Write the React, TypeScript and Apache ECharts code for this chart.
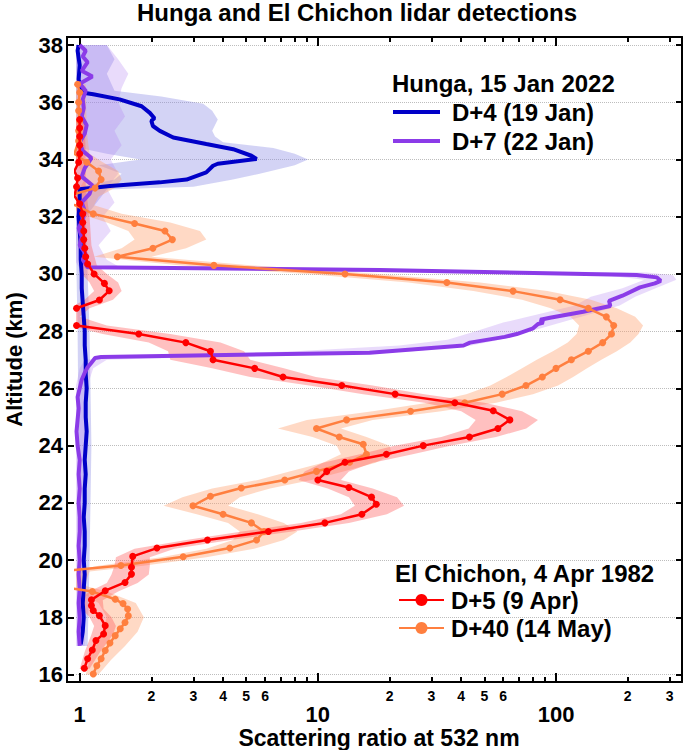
import React, { useEffect, useRef } from "react";
import * as echarts from "echarts";

const TITLE = "Hunga and El Chichon lidar detections";
const X_NAME = "Scattering ratio at 532 nm";
const Y_NAME = "Altitude (km)";
const HUNGA_HEADER = "Hunga, 15 Jan 2022";
const CHICHON_HEADER = "El Chichon, 4 Apr 1982";
const NAME_D4 = "D+4 (19 Jan)";
const NAME_D7 = "D+7 (22 Jan)";
const NAME_D5 = "D+5 (9 Apr)";
const NAME_D40 = "D+40 (14 May)";

const X_MIN = 0.965;
const X_MAX = 338;
const Y_MIN = 15.74;
const Y_MAX = 38.28;

const yTicks = [16, 18, 20, 22, 24, 26, 28, 30, 32, 34, 36, 38];
const xMinorTicks = [2, 3, 4, 5, 6, 7, 8, 9, 20, 30, 40, 50, 60, 70, 80, 90, 200, 300];
const xMinorLabels = [2, 3, 4, 5, 6, 20, 30, 40, 50, 60, 200, 300];
const xMajorTicks = [1, 10, 100];

// Hunga D+4 (19 Jan): [scattering ratio, altitude km]
const hungaD4 = [
  [1.01, 17.05], [1.03, 17.5], [1.04, 18.0], [1.03, 18.5], [1.04, 19.0], [1.05, 19.5], [1.04, 20.0],
  [1.05, 20.5], [1.05, 21.0], [1.04, 21.5], [1.05, 22.0], [1.05, 22.5], [1.06, 23.0], [1.05, 23.5],
  [1.06, 24.0], [1.07, 24.5], [1.06, 25.0], [1.06, 25.5], [1.07, 26.0], [1.06, 26.5], [1.06, 27.0],
  [1.05, 27.5], [1.05, 28.0], [1.04, 28.5], [1.03, 29.0], [1.02, 29.5], [1.02, 30.0], [1.01, 30.5],
  [1.01, 31.0], [1.0, 31.5], [0.99, 32.0], [1.0, 32.5], [1.0, 32.96], [1.34, 33.07], [2.17, 33.2],
  [2.81, 33.3], [3.4, 33.55], [3.63, 33.78], [3.8, 33.85], [5.53, 34.02], [5.26, 34.13], [4.41, 34.36],
  [3.4, 34.54], [2.47, 34.77], [2.17, 35.0], [2.03, 35.17], [2.0, 35.35], [2.06, 35.44], [1.97, 35.63],
  [1.82, 35.86], [1.47, 36.1], [1.14, 36.28], [1.02, 36.34], [0.99, 36.8], [1.0, 37.3], [0.98, 37.8],
  [0.99, 38.0],
];

// Hunga D+7 (22 Jan)
const hungaD7 = [
  [1.0, 17.0], [0.99, 17.5], [1.0, 18.0], [0.99, 18.5], [1.0, 19.0], [0.99, 19.5], [1.0, 20.0],
  [0.99, 20.5], [1.0, 21.0], [1.0, 21.5], [0.99, 22.0], [1.0, 22.5], [0.99, 23.0], [1.0, 23.5],
  [0.98, 24.0], [0.97, 24.5], [0.98, 24.9], [0.99, 25.3], [0.98, 25.7], [1.0, 26.0], [1.02, 26.3],
  [1.05, 26.55], [1.08, 26.74], [1.12, 26.9], [1.16, 27.06], [1.23, 27.1], [16.5, 27.25], [40.9, 27.5],
  [43.5, 27.6], [60.9, 27.8], [68.4, 27.9], [80.1, 28.1], [84, 28.25], [88.5, 28.3], [85.9, 28.4],
  [94.3, 28.47], [130, 28.68], [169, 28.88], [167, 29.06], [190, 29.24], [225, 29.53], [260, 29.67],
  [275, 29.76], [265, 29.88], [218, 29.96], [18.2, 30.14], [1.08, 30.23], [1.03, 30.5], [1.06, 30.7],
  [1.0, 31.0], [1.02, 31.3], [0.99, 31.6], [1.03, 31.9], [1.05, 32.2], [1.02, 32.5], [1.1, 32.8],
  [1.13, 33.1], [1.02, 33.4], [1.05, 33.7], [1.12, 34.05], [1.03, 34.3], [1.0, 34.6], [1.05, 34.9],
  [1.07, 35.2], [1.02, 35.5], [1.04, 35.8], [1.03, 36.1], [1.06, 36.4], [1.0, 36.65], [1.13, 36.9],
  [1.02, 37.1], [1.08, 37.4], [1.03, 37.6], [1.06, 37.8], [1.0, 38.0],
];

// El Chichon D+5 (9 Apr)
const chichonD5 = [
  [1.046, 16.22], [1.08, 16.55], [1.13, 16.86], [1.17, 17.19], [1.26, 17.42], [1.28, 17.71],
  [1.21, 18.06], [1.14, 18.24], [1.12, 18.41], [1.12, 18.61], [1.28, 18.93], [1.55, 19.22],
  [1.65, 19.51], [1.65, 19.75], [1.67, 20.13], [2.11, 20.42], [3.44, 20.7], [6.2, 21.0], [10.7, 21.3],
  [15.3, 21.6], [17.6, 21.95], [16.8, 22.2], [13.5, 22.54], [10.0, 22.8], [10.9, 23.1], [13.0, 23.42],
  [19.4, 23.7], [27.7, 24.0], [43.3, 24.3], [57, 24.6], [64, 24.9], [54.5, 25.22], [37.6, 25.5],
  [21.1, 25.8], [12.6, 26.1], [7.14, 26.4], [5.43, 26.7], [3.63, 27.0], [3.54, 27.3], [2.79, 27.6],
  [1.77, 27.9], [0.97, 28.2], [0.55, 28.5], [0.97, 28.8], [1.21, 29.09], [1.33, 29.41], [1.27, 29.67],
  [1.15, 30.0], [1.08, 30.35], [1.06, 30.6], [1.05, 30.9], [1.04, 31.2], [1.04, 31.5], [1.03, 31.8],
  [1.03, 32.1], [1.0, 32.45], [0.95, 32.73], [0.97, 33.05], [0.98, 33.35], [0.95, 33.6], [0.99, 33.9],
  [1.0, 34.2], [1.0, 34.5], [1.0, 34.8], [1.0, 35.1], [1.0, 35.4],
];

// El Chichon D+40 (14 May)
const chichonD40 = [
  [1.14, 16.02], [1.18, 16.31], [1.23, 16.55], [1.28, 16.84], [1.34, 17.1], [1.41, 17.36], [1.48, 17.6],
  [1.55, 17.82], [1.6, 18.05], [1.59, 18.29], [1.52, 18.48], [1.41, 18.63], [1.13, 18.9], [0.45, 19.4],
  [1.49, 19.81], [2.72, 20.12], [4.27, 20.42], [5.53, 20.7], [5.94, 21.0], [5.26, 21.3], [4.0, 21.6],
  [2.99, 21.9], [3.54, 22.23], [4.77, 22.52], [7.26, 22.8], [9.87, 23.1], [13.6, 23.42], [16.0, 23.7],
  [15.5, 24.05], [12.3, 24.3], [9.87, 24.6], [13.2, 24.9], [24.5, 25.2], [41.4, 25.5], [59.4, 25.8],
  [74.8, 26.1], [87.6, 26.4], [100, 26.7], [116, 27.0], [136.6, 27.3], [157, 27.6], [171, 27.9],
  [174.6, 28.2], [162.6, 28.5], [136.6, 28.8], [104, 29.1], [66, 29.4], [34.8, 29.7], [13.0, 30.0],
  [3.66, 30.3], [1.44, 30.6], [2.03, 30.9], [2.45, 31.2], [2.28, 31.5], [1.7, 31.76], [1.14, 32.1],
  [0.96, 32.4], [0.7, 32.6], [0.96, 32.8], [1.16, 33.0], [1.23, 33.3], [1.2, 33.6], [1.07, 33.9],
  [0.95, 34.2], [0.99, 34.65], [0.99, 35.0], [1.0, 35.35], [0.99, 35.7], [0.99, 36.0], [1.0, 36.34],
  [0.98, 36.63],
];

// Uncertainty bands: [altitude, low, high]
const bandD4 = [
  [17.0, 0.98, 1.08], [20.0, 0.98, 1.1], [24.0, 0.99, 1.12], [28.0, 0.98, 1.1], [32.0, 0.96, 1.06],
  [32.95, 0.97, 1.3], [33.05, 1.0, 3.0], [33.3, 1.4, 4.4], [33.5, 1.5, 5.7], [33.8, 1.2, 8.0],
  [34.0, 1.8, 9.1], [34.2, 1.3, 8.0], [34.4, 1.0, 6.5], [34.6, 0.97, 4.0], [34.8, 0.97, 3.7],
  [35.0, 0.97, 3.6], [35.4, 0.97, 3.8], [35.7, 0.97, 3.6], [35.95, 0.97, 3.3], [36.2, 0.96, 2.2],
  [36.4, 0.95, 1.4], [37.0, 0.95, 1.3], [37.5, 0.95, 1.4], [38.0, 0.95, 1.3],
];

const bandD7 = [
  [17.0, 0.96, 1.05], [20.0, 0.95, 1.06], [24.0, 0.95, 1.05], [26.0, 0.96, 1.07], [26.7, 1.0, 1.14],
  [27.0, 1.05, 1.3], [27.15, 2.3, 6], [27.3, 8, 25], [27.5, 22, 44], [27.7, 35, 58], [28.0, 46, 78],
  [28.3, 60, 105], [28.6, 85, 140], [28.9, 120, 185], [29.2, 140, 215], [29.5, 190, 262],
  [29.8, 235, 320], [29.95, 160, 310], [30.05, 20, 240], [30.2, 1.0, 1.5], [30.5, 0.95, 1.3],
  [31.0, 0.96, 1.2], [31.5, 0.95, 1.35], [32.0, 0.96, 1.25], [32.5, 0.95, 1.4], [33.0, 0.97, 1.3],
  [33.5, 0.95, 1.45], [34.0, 0.96, 1.35], [34.5, 0.95, 1.5], [35.0, 0.96, 1.4], [35.5, 0.95, 1.55],
  [36.0, 0.96, 1.45], [36.5, 0.95, 1.5], [37.0, 0.96, 1.6], [37.5, 0.95, 1.45], [38.0, 0.96, 1.3],
];

const bandD5 = [
  [16.2, 1.0, 1.1], [16.8, 1.05, 1.22], [17.4, 1.12, 1.38], [17.7, 1.15, 1.42], [18.0, 1.1, 1.36],
  [18.3, 1.02, 1.26], [18.6, 1.0, 1.25], [18.9, 1.1, 1.45], [19.2, 1.3, 1.75], [19.5, 1.36, 1.95],
  [19.8, 1.4, 1.97], [20.1, 1.42, 1.97], [20.4, 1.7, 2.5], [20.7, 2.8, 4.3], [21.0, 4.8, 7.8],
  [21.3, 8.5, 13.5], [21.6, 12.5, 19.5], [21.9, 14.3, 23], [22.2, 13.5, 21.5], [22.5, 11, 17],
  [22.8, 8.3, 12.5], [23.1, 8.8, 13.5], [23.4, 10.5, 17], [23.7, 15, 25], [24.0, 21, 36],
  [24.3, 33, 56], [24.6, 43, 75], [24.9, 46, 84], [25.2, 40, 72], [25.5, 28, 50], [25.8, 15.5, 28],
  [26.1, 9.2, 17], [26.4, 5.2, 9.8], [26.7, 3.6, 7.2], [27.0, 2.4, 5.2], [27.3, 2.35, 4.9],
  [27.6, 1.95, 3.9], [27.9, 1.25, 2.4], [28.2, 0.9, 1.3], [28.5, 0.9, 1.0], [28.8, 0.9, 1.1],
  [29.1, 1.05, 1.38], [29.4, 1.15, 1.5], [29.7, 1.1, 1.45], [30.0, 1.02, 1.3], [30.3, 1.0, 1.18],
  [31.0, 0.99, 1.12], [32.0, 0.98, 1.1], [33.0, 0.93, 1.06], [34.0, 0.95, 1.06], [35.4, 0.96, 1.05],
];

const bandD40 = [
  [16.0, 1.06, 1.2], [16.5, 1.1, 1.35], [17.0, 1.15, 1.55], [17.5, 1.24, 1.75], [18.0, 1.3, 1.86],
  [18.5, 1.2, 1.72], [18.9, 1.0, 1.3], [19.1, 0.9, 1.05], [19.6, 0.9, 1.1], [19.8, 1.2, 1.85],
  [20.1, 2.2, 3.4], [20.4, 3.4, 5.4], [20.7, 4.4, 7.2], [21.0, 4.7, 8.2], [21.3, 4.2, 7.2],
  [21.6, 3.1, 5.6], [21.9, 2.25, 4.2], [22.2, 2.7, 4.7], [22.5, 3.6, 6.3], [22.8, 5.6, 9.4],
  [23.1, 7.6, 12.8], [23.4, 10.5, 17.5], [23.7, 12.5, 20.5], [24.0, 12, 20], [24.3, 9.5, 16],
  [24.6, 6.8, 12.5], [24.9, 9, 17], [25.2, 17, 33], [25.5, 29, 56], [25.8, 42, 80], [26.1, 53, 102],
  [26.4, 62, 118], [26.7, 72, 135], [27.0, 83, 155], [27.3, 97, 180], [27.6, 112, 205],
  [27.9, 122, 222], [28.2, 125, 232], [28.5, 115, 215], [28.8, 95, 180], [29.1, 72, 140],
  [29.4, 45, 92], [29.7, 24, 48], [30.0, 9, 18], [30.3, 2.6, 5.2], [30.6, 1.15, 2.0], [30.9, 1.5, 2.8],
  [31.2, 1.7, 3.4], [31.5, 1.6, 3.2], [31.8, 1.3, 2.4], [32.1, 1.0, 1.5], [32.4, 0.92, 1.15],
  [32.7, 0.9, 1.2], [33.0, 1.0, 1.4], [33.3, 1.05, 1.5], [33.6, 1.02, 1.45], [33.9, 0.95, 1.25],
  [34.2, 0.9, 1.1], [35.0, 0.93, 1.07], [36.63, 0.94, 1.06],
];

const COLOR_D4 = "#0000C8";
const COLOR_D7 = "#8B3BE8";
const COLOR_D5 = "#FF0000";
const COLOR_D40 = "#FF7F3F";

const FONT = "'Liberation Sans', Arial, Helvetica, sans-serif";

function bandSeries(rows: number[][], fill: string, z: number) {
  return {
    type: "custom",
    silent: true,
    clip: true,
    xAxisIndex: 0,
    yAxisIndex: 0,
    z,
    data: rows.map((r) => [r[1], r[0]]),
    renderItem: (params: any, api: any) => {
      if (params.dataIndex !== 0) return null;
      const pts: number[][] = [];
      for (let i = 0; i < rows.length; i++) pts.push(api.coord([rows[i][1], rows[i][0]]));
      for (let i = rows.length - 1; i >= 0; i--) pts.push(api.coord([rows[i][2], rows[i][0]]));
      return { type: "polygon", shape: { points: pts }, style: { fill } };
    },
  };
}

function lineSeries(name: string, data: number[][], color: string, width: number, withSymbol: boolean, z: number) {
  return {
    type: "line",
    name,
    data,
    xAxisIndex: 0,
    yAxisIndex: 0,
    z,
    clip: true,
    symbol: withSymbol ? "circle" : "none",
    showSymbol: withSymbol,
    symbolSize: 7,
    itemStyle: { color },
    lineStyle: { color, width },
    emphasis: { disabled: true },
  };
}

const leadingDigit = (v: number) => {
  const p = Math.pow(10, Math.floor(Math.log10(v) + 1e-9));
  return String(Math.round(v / p));
};

export default function App() {
  const ref = useRef<HTMLDivElement>(null);
  useEffect(() => {
    document.body.style.margin = "0";
    if (!ref.current) return;
    const chart = echarts.init(ref.current, null, { renderer: "svg" });
    const black = "#000";
    const xCommon = {
      type: "log",
      logBase: 10,
      min: X_MIN,
      max: X_MAX,
      gridIndex: 0,
      splitLine: { show: false },
      minorTick: { show: false },
    };
    const bold = { fontFamily: FONT, fontWeight: "bold", color: black };
    const option: any = {
      animation: false,
      backgroundColor: "#fff",
      title: [
        { text: TITLE, left: 137, top: 0, padding: 0, textStyle: { ...bold, fontSize: 24 } },
        { text: HUNGA_HEADER, left: 392, top: 71, padding: 0, textStyle: { ...bold, fontSize: 24 } },
        { text: CHICHON_HEADER, left: 395, top: 561, padding: 0, textStyle: { ...bold, fontSize: 24 } },
      ],
      legend: [
        {
          data: [
            { name: NAME_D4, icon: "rect", itemStyle: { color: COLOR_D4 } },
            { name: NAME_D7, icon: "rect", itemStyle: { color: COLOR_D7 } },
          ],
          orient: "vertical",
          left: 393,
          top: 100,
          padding: 0,
          itemWidth: 47,
          itemHeight: 4,
          itemGap: 5,
          selectedMode: false,
          textStyle: { ...bold, fontSize: 24, padding: [0, 0, 0, 7] },
        },
        {
          data: [NAME_D5, NAME_D40],
          orient: "vertical",
          left: 398,
          top: 588,
          padding: 0,
          itemWidth: 45,
          itemHeight: 15,
          itemGap: 4,
          selectedMode: false,
          textStyle: { ...bold, fontSize: 24, padding: [0, 0, 0, 2] },
        },
      ],
      grid: { left: 76, right: 3, top: 37, bottom: 68, containLabel: false, outerBoundsMode: "none" },
      xAxis: [
        {
          ...xCommon,
          position: "bottom",
          axisLine: { show: true, onZero: false, lineStyle: { color: black, width: 2 } },
          axisTick: { show: true, inside: true, length: 5, customValues: xMinorTicks, lineStyle: { color: black, width: 2 } },
          axisLabel: { show: true, customValues: xMinorLabels, formatter: leadingDigit, ...bold, fontSize: 14, margin: 7 },
          name: X_NAME,
          nameLocation: "middle",
          nameGap: 44,
          nameTextStyle: { ...bold, fontSize: 23 },
        },
        {
          ...xCommon,
          position: "bottom",
          axisLine: { show: false, onZero: false },
          axisTick: { show: true, inside: true, length: 9, customValues: xMajorTicks, lineStyle: { color: black, width: 2 } },
          axisLabel: { show: true, customValues: xMajorTicks, formatter: (v: number) => String(Math.round(v)), ...bold, fontSize: 22, margin: 21 },
        },
        {
          ...xCommon,
          position: "top",
          axisLine: { show: true, onZero: false, lineStyle: { color: black, width: 2 } },
          axisTick: { show: true, inside: true, length: 5, customValues: xMinorTicks, lineStyle: { color: black, width: 2 } },
          axisLabel: { show: false },
        },
        {
          ...xCommon,
          position: "top",
          axisLine: { show: false, onZero: false },
          axisTick: { show: true, inside: true, length: 9, customValues: xMajorTicks, lineStyle: { color: black, width: 2 } },
          axisLabel: { show: false },
        },
      ],
      yAxis: [
        {
          type: "value",
          min: Y_MIN,
          max: Y_MAX,
          position: "left",
          offset: 9,
          axisLine: { show: true, onZero: false, lineStyle: { color: black, width: 2 } },
          axisTick: { show: true, inside: true, length: 7, customValues: yTicks, lineStyle: { color: black, width: 2 } },
          axisLabel: { show: true, customValues: yTicks, ...bold, fontSize: 22, margin: 4 },
          splitLine: { show: true, lineStyle: { type: "dotted", color: "#bdbdbd", width: 1 } },
          name: Y_NAME,
          nameLocation: "middle",
          nameRotate: 90,
          nameGap: 42,
          nameTextStyle: { ...bold, fontSize: 22 },
        },
        {
          type: "value",
          min: Y_MIN,
          max: Y_MAX,
          position: "right",
          axisLine: { show: true, onZero: false, lineStyle: { color: black, width: 2 } },
          axisTick: { show: true, inside: true, length: 6, customValues: yTicks, lineStyle: { color: black, width: 2 } },
          axisLabel: { show: false },
          splitLine: { show: false },
        },
      ],
      graphic: [
        { type: "line", shape: { x1: 66, y1: 682, x2: 77, y2: 682 }, style: { stroke: black, lineWidth: 2 } },
        { type: "line", shape: { x1: 66, y1: 37, x2: 77, y2: 37 }, style: { stroke: black, lineWidth: 2 } },
      ],
      series: [
        bandSeries(bandD4, "rgba(140,140,230,0.38)", 1),
        bandSeries(bandD7, "rgba(175,125,240,0.28)", 1),
        bandSeries(bandD40, "rgba(255,160,110,0.40)", 1),
        bandSeries(bandD5, "rgba(255,90,90,0.38)", 1),
        lineSeries(NAME_D4, hungaD4, COLOR_D4, 4, false, 3),
        lineSeries(NAME_D7, hungaD7, COLOR_D7, 4, false, 3),
        lineSeries(NAME_D40, chichonD40, COLOR_D40, 2.5, true, 4),
        lineSeries(NAME_D5, chichonD5, COLOR_D5, 2.5, true, 5),
      ],
    };
    chart.setOption(option);
    return () => chart.dispose();
  }, []);
  return <div ref={ref} style={{ width: 685, height: 750 }} />;
}
